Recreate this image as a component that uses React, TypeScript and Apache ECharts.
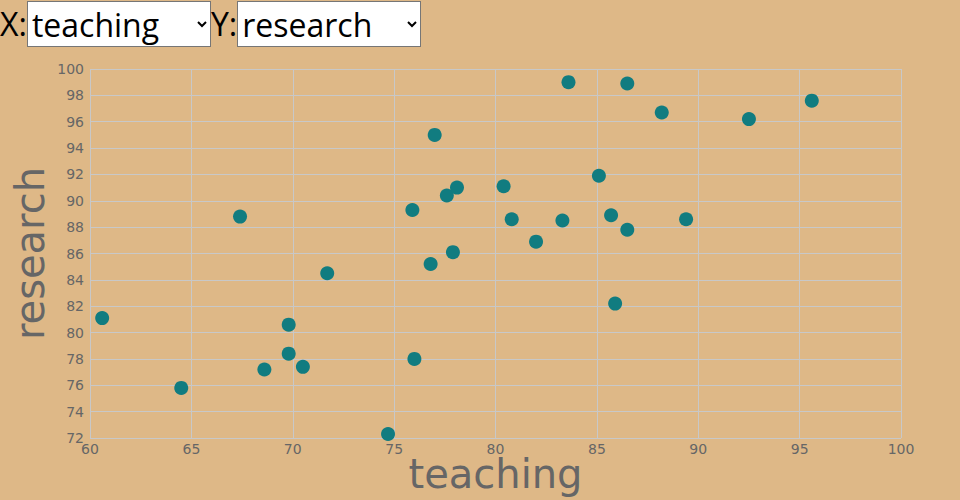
import React, { useEffect, useRef, useState } from "react";
import * as echarts from "echarts";

const dimensions = ["teaching", "research"];

const teaching = [
  60.6, 64.5, 68.6, 69.8, 69.8, 70.5, 67.4, 71.7, 74.7, 76.0,
  76.8, 77.9, 75.9, 77.0, 77.6, 78.1, 80.4, 80.8, 82.0, 83.3,
  83.6, 85.1, 85.7, 86.5, 86.5, 85.9, 88.2, 89.4, 92.5, 95.6,
];

const research = [
  81.1, 75.8, 77.2, 80.6, 78.4, 77.4, 88.8, 84.5, 72.3, 78.0,
  85.2, 86.1, 89.3, 95.0, 90.4, 91.0, 91.1, 88.6, 86.9, 88.5,
  99.0, 91.9, 88.9, 87.8, 98.9, 82.2, 96.7, 88.6, 96.2, 97.6,
];

const columns: Record<string, number[]> = { teaching, research };

const axisRanges: Record<string, { min: number; max: number; interval: number }> = {
  teaching: { min: 60, max: 100, interval: 5 },
  research: { min: 72, max: 100, interval: 2 },
};

const labelFont = "'DejaVu Sans', sans-serif";

export default function App() {
  const ref = useRef<HTMLDivElement>(null);
  const [xDim, setXDim] = useState("teaching");
  const [yDim, setYDim] = useState("research");

  useEffect(() => {
    if (!ref.current) return;
    const chart = echarts.init(ref.current, undefined, { renderer: "svg" });
    const xs = columns[xDim];
    const ys = columns[yDim];
    const data = xs.map((x, i) => [x, ys[i]]);
    const xr = axisRanges[xDim];
    const yr = axisRanges[yDim];
    chart.setOption({
      animation: false,
      backgroundColor: "transparent",
      grid: { left: 90, right: 59, top: 69, bottom: 62, containLabel: false, outerBoundsMode: "none" },
      xAxis: {
        type: "value",
        min: xr.min,
        max: xr.max,
        interval: xr.interval,
        name: xDim,
        nameLocation: "middle",
        nameGap: 21,
        nameMoveOverlap: false,
        nameTextStyle: { fontSize: 40, lineHeight: 30, color: "#666", fontFamily: labelFont },
        axisLine: { show: false },
        axisTick: { show: false },
        axisLabel: { color: "#666", fontSize: 14, fontFamily: labelFont, margin: 4 },
        splitLine: { show: true, lineStyle: { color: "#c8c8c8", width: 1 } },
      },
      yAxis: {
        type: "value",
        min: yr.min,
        max: yr.max,
        interval: yr.interval,
        name: yDim,
        nameLocation: "middle",
        nameGap: 40,
        nameMoveOverlap: false,
        nameTextStyle: { fontSize: 40, color: "#666", fontFamily: labelFont },
        axisLine: { show: false },
        axisTick: { show: false },
        axisLabel: { color: "#666", fontSize: 14, fontFamily: labelFont, margin: 6 },
        splitLine: { show: true, lineStyle: { color: "#c8c8c8", width: 1 } },
      },
      series: [
        {
          type: "scatter",
          data,
          symbolSize: 14,
          itemStyle: { color: "#117c80", opacity: 1 },
        },
      ],
    });
    return () => chart.dispose();
  }, [xDim, yDim]);

  const selectStyle: React.CSSProperties = {
    width: 184,
    height: 46,
    fontSize: 32,
    fontFamily: "'Open Sans', sans-serif",
    background: "#fff",
    border: "1px solid #767676",
    borderRadius: 0,
    margin: 0,
    verticalAlign: "middle",
    color: "#000",
  };

  return (
    <div style={{ position: "relative", width: 960, height: 500, background: "#deb887" }}>
      <style>{"body{margin:0;background:#deb887;}"}</style>
      <div ref={ref} style={{ position: "absolute", left: 0, top: 0, width: 960, height: 500 }} />
      <div
        style={{
          position: "absolute",
          left: 0,
          top: 0,
          zIndex: 1,
          fontSize: 32,
          fontFamily: "'Open Sans', sans-serif",
          color: "#000",
          display: "flex",
          alignItems: "center",
          height: 47,
          whiteSpace: "nowrap",
        }}
      >
        <span>X:</span>
        <select style={selectStyle} value={xDim} onChange={(e) => setXDim(e.target.value)}>
          {dimensions.map((d) => (
            <option key={d} value={d}>{d}</option>
          ))}
        </select>
        <span>Y:</span>
        <select style={selectStyle} value={yDim} onChange={(e) => setYDim(e.target.value)}>
          {dimensions.map((d) => (
            <option key={d} value={d}>{d}</option>
          ))}
        </select>
      </div>
    </div>
  );
}
